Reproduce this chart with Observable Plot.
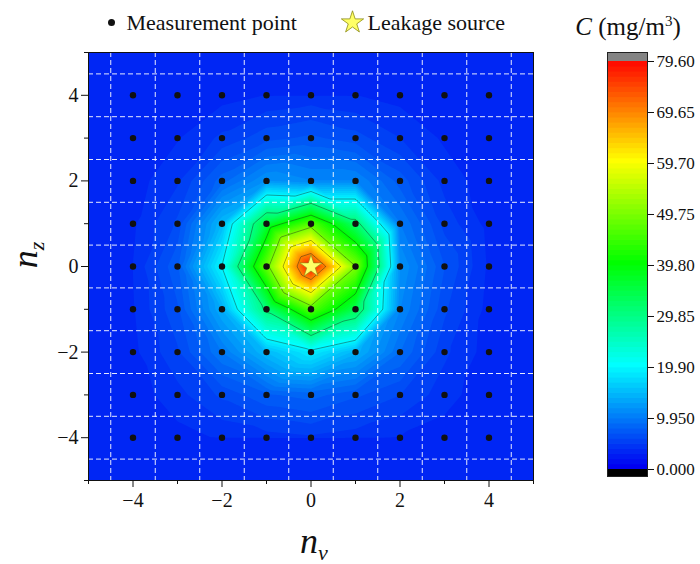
<!DOCTYPE html>
<html><head><meta charset="utf-8">
<script src="https://cdn.jsdelivr.net/npm/d3@7"></script>
<script src="https://cdn.jsdelivr.net/npm/@observablehq/plot@0.6"></script>
<style>
html,body{margin:0;padding:0;background:#fff;}
#wrap{position:relative;width:700px;height:564px;overflow:hidden;font-family:"Liberation Serif","Times New Roman",serif;color:#111;}
#main{position:absolute;left:0;top:0;}
#bar{position:absolute;left:560px;top:0;}
#ctitle{position:absolute;left:560px;width:136px;top:12px;text-align:center;font-size:25px;line-height:30px;white-space:nowrap;}
#ctitle sup{font-size:15px;line-height:0;}
svg text{font-family:"Liberation Serif","Times New Roman",serif !important;font-variant-numeric:normal !important;}
</style></head><body>
<div id="wrap"><div id="main"></div><div id="bar"></div><div id="ctitle"><i>C</i> (mg/m<sup>3</sup>)</div></div>
<script>
// ---- data ----
const nyPositions = [-4, -3, -2, -1, 0, 1, 2, 3, 4];
const nzPositions = [4, 3, 2, 1, 0, -1, -2, -3, -4];
// concentration (mg/m3), rows follow nzPositions, columns follow nyPositions
const concentration = [
  [3.0, 3.3, 3.6, 4.0, 4.3, 4.0, 3.6, 3.2, 3.0],
  [3.2, 3.9, 5.2, 6.6, 7.2, 6.4, 5.0, 3.8, 3.2],
  [3.5, 4.8, 8.5, 12.0, 11.0, 11.0, 7.5, 4.6, 3.4],
  [3.8, 6.2, 15.0, 36.0, 47.0, 32.0, 10.0, 5.6, 3.6],
  [4.0, 7.8, 20.0, 48.0, 79.6, 50.0, 12.0, 7.0, 3.8],
  [3.9, 6.8, 14.0, 31.0, 47.0, 34.0, 11.0, 6.2, 3.6],
  [3.7, 5.8, 10.0, 15.0, 19.0, 14.5, 9.0, 5.2, 3.5],
  [3.4, 4.6, 6.2, 7.8, 8.4, 7.2, 6.0, 4.4, 3.3],
  [3.1, 3.6, 4.1, 4.5, 4.8, 4.4, 3.9, 3.5, 3.1]
];
const leakSource = [{ny: 0, nz: 0}];
const colorStops = [0, 19.9, 39.8, 59.7, 79.6];
const colorRange = ["#0000f2", "#00ffff", "#00ff00", "#ffff00", "#ff0000"];
const barTicks = [0, 9.95, 19.9, 29.85, 39.8, 49.75, 59.7, 69.65, 79.6];
const lineLevels = [19.9, 29.85, 39.8, 49.75, 59.7, 69.65];
const bandStep = 0.995;
const bandCount = 80;
const majorTicks = [-4, -2, 0, 2, 4];
const minorTicks = [-5, -3, -1, 1, 3, 5];
const gridPositions = [-4.5, -3.5, -2.5, -1.5, -0.5, 0.5, 1.5, 2.5, 3.5, 4.5];
const legendLabels = ["Measurement point", "Leakage source"];

// ---- derived ----
const points = [];
nzPositions.forEach((nz, i) => nyPositions.forEach((ny, j) => points.push({ny, nz, c: concentration[i][j]})));
const fillThresholds = d3.range(bandCount).map(i => i * bandStep);
const cMax = colorStops[colorStops.length - 1];
const colorOpt = {type: "linear", domain: colorStops, range: colorRange, interpolate: "rgb"};
const serif = "'Liberation Serif', 'Times New Roman', serif";
const bounds = {x1: -5, x2: 5, y1: -5, y2: 5};

const main = Plot.plot({
  width: 560, height: 564,
  marginLeft: 88, marginRight: 27, marginTop: 52, marginBottom: 84,
  style: {fontFamily: serif, fontSize: "20px", color: "#111", background: "white"},
  x: {domain: [-5, 5], label: null},
  y: {domain: [-5, 5], label: null},
  color: colorOpt,
  marks: [
    Plot.contour(points, {x: "ny", y: "nz", fill: "c", interpolate: "barycentric", thresholds: fillThresholds, ...bounds, pixelSize: 1, stroke: "none"}),
    Plot.contour(points, {x: "ny", y: "nz", value: "c", interpolate: "barycentric", thresholds: lineLevels, ...bounds, pixelSize: 1, fill: "none", stroke: "#1f2a1a", strokeOpacity: 0.55, strokeWidth: 0.8}),
    Plot.gridX(gridPositions, {stroke: "white", strokeOpacity: 0.9, strokeDasharray: "5,3", strokeWidth: 1}),
    Plot.gridY(gridPositions, {stroke: "white", strokeOpacity: 0.9, strokeDasharray: "5,3", strokeWidth: 1}),
    Plot.dot(points, {x: "ny", y: "nz", r: 3.2, fill: "#111"}),
    Plot.dot(leakSource, {x: "ny", y: "nz", symbol: "star", r: 7, fill: "#ffff66", stroke: "#8a8a10", strokeWidth: 0.6}),
    Plot.frame({stroke: "#111"}),
    Plot.axisX(majorTicks, {tickSize: 7, tickPadding: 5, fontSize: 20, fontFamily: serif}),
    Plot.axisX(minorTicks, {tickSize: 4, tickFormat: () => ""}),
    Plot.axisY(majorTicks, {tickSize: 7, tickPadding: 3, fontSize: 20, fontFamily: serif}),
    Plot.axisY(minorTicks, {tickSize: 4, tickFormat: () => ""}),
    Plot.dot([legendLabels[0]], {frameAnchor: "top-left", dx: 23, dy: -30, r: 3.5, fill: "#111"}),
    Plot.text([legendLabels[0]], {text: d => d, frameAnchor: "top-left", dx: 38, dy: -30, textAnchor: "start", lineAnchor: "middle", fontSize: 22, fontFamily: serif}),
    Plot.dot([legendLabels[1]], {frameAnchor: "top-left", dx: 264, dy: -30, symbol: "star", r: 7, fill: "#ffff66", stroke: "#8a8a10", strokeWidth: 0.8}),
    Plot.text([legendLabels[1]], {text: d => d, frameAnchor: "top-left", dx: 279, dy: -30, textAnchor: "start", lineAnchor: "middle", fontSize: 22, fontFamily: serif})
  ]
});
document.getElementById("main").appendChild(main);

// axis titles with italic n and subscripts
const sv = d3.select(main);
const xl = sv.append("text").attr("x", 314).attr("y", 553).attr("text-anchor", "middle")
  .attr("font-family", serif).attr("fill", "#111");
xl.append("tspan").attr("font-style", "italic").attr("font-size", 36).text("n");
xl.append("tspan").attr("font-style", "italic").attr("font-size", 22).attr("dy", 7).text("v");
const yl = sv.append("text").attr("transform", "translate(37,255) rotate(-90)").attr("text-anchor", "middle")
  .attr("font-family", serif).attr("fill", "#111");
yl.append("tspan").attr("font-style", "italic").attr("font-size", 36).text("n");
yl.append("tspan").attr("font-style", "italic").attr("font-size", 22).attr("dy", 7).text("z");

// ---- colour bar ----
const over = 1.756, under = 1.366;
const bands = fillThresholds.map(t => ({lo: t, hi: Math.min(t + bandStep, cMax)}));
const bar = Plot.plot({
  width: 140, height: 564,
  marginLeft: 47, marginRight: 53, marginTop: 52, marginBottom: 88,
  style: {fontFamily: serif, fontSize: "17px", color: "#111", background: "white"},
  x: {domain: [0, 1], axis: null},
  y: {domain: [-under, cMax + over], axis: null},
  color: colorOpt,
  marks: [
    Plot.rect(bands, {x1: 0, x2: 1, y1: "lo", y2: "hi", fill: "lo", insetTop: -0.4, insetBottom: -0.4}),
    Plot.rect([{lo: cMax, hi: cMax + over}], {x1: 0, x2: 1, y1: "lo", y2: "hi", fill: "#848484"}),
    Plot.rect([{lo: -under, hi: 0}], {x1: 0, x2: 1, y1: "lo", y2: "hi", fill: "#000000"}),
    Plot.frame({stroke: "#222"}),
    Plot.axisY(barTicks, {anchor: "right", tickSize: 6, tickPadding: 3, tickFormat: d3.format(".4r"), fontSize: 17, fontFamily: serif})
  ]
});
document.getElementById("bar").appendChild(bar);
</script>
</body></html>
